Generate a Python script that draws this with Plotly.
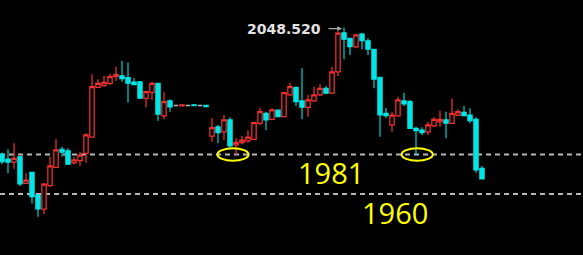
import plotly.graph_objects as go

# ---- data (price values) ----
opens = [1981.1, 1978.6, 1976.9, 1979.8, 1965.7, 1971.5, 1959.5, 1952.0, 1964.4, 1974.2,
         1983.8, 1983.0, 1976.6, 1977.7, 1981.6, 1990.2, 2016.7, 2017.6, 2018.9, 2022.4,
         2022.9, 2021.9, 2019.6, 2019.7, 2010.9, 2014.1, 2018.9, 2001.5, 2009.5, 2007.1,
         2006.9, 2007.1, 2007.4, 2007.1, 2007.2, 1990.8, 1995.8, 1993.1, 1999.4, 1986.1,
         1987.3, 1988.3, 1989.1, 1997.6, 2002.9, 1999.7, 2004.7, 2001.1, 2012.7, 2016.7,
         2009.5, 2006.1, 2009.5, 2012.7, 2016.2, 2013.6, 2025.0, 2045.8, 2042.8, 2038.3,
         2045.1, 2041.5, 2037.0, 2022.1, 2002.9, 1996.7, 2001.5, 2009.6, 2009.1, 1994.9,
         1994.0, 1993.1, 1996.2, 1998.4, 1999.4, 1997.6, 2002.0, 2003.4, 2002.0, 1999.7,
         1973.7]
highs = [1982.0, 1983.8, 1987.0, 1980.2, 1971.0, 1971.5, 1959.5, 1966.0, 1979.8, 1989.1,
         1985.1, 1984.3, 1979.8, 1982.5, 1992.3, 2023.7, 2021.0, 2022.8, 2023.8, 2027.7,
         2030.7, 2030.0, 2021.5, 2020.1, 2014.9, 2019.6, 2019.2, 2014.1, 2010.4, 2007.1,
         2007.4, 2007.1, 2007.4, 2007.1, 2007.2, 2000.3, 1996.7, 2002.0, 2000.8, 1989.6,
         1990.8, 1993.7, 1998.4, 2005.9, 2003.8, 2005.6, 2005.0, 2014.4, 2019.2, 2017.1,
         2026.9, 2012.7, 2017.1, 2018.5, 2017.4, 2027.7, 2046.5, 2048.52, 2042.8, 2045.1,
         2045.8, 2042.8, 2037.0, 2022.1, 2005.7, 2003.8, 2011.7, 2013.9, 2010.0, 1995.8,
         1995.5, 1998.4, 2000.8, 2004.3, 2003.8, 2010.9, 2005.0, 2006.8, 2005.6, 2000.8,
         1974.9]
lows = [1975.9, 1971.0, 1973.3, 1964.2, 1965.3, 1955.0, 1947.9, 1949.3, 1963.9, 1974.2,
        1979.8, 1975.6, 1975.8, 1975.0, 1976.6, 1990.0, 2016.4, 2017.1, 2018.0, 2020.1,
        2019.7, 2008.6, 2018.0, 2010.7, 2006.1, 2010.0, 1999.0, 1999.7, 2003.8, 2007.1,
        2006.9, 2007.1, 2006.9, 2007.1, 2006.4, 1987.8, 1987.0, 1988.7, 1984.5, 1980.8,
        1986.4, 1987.3, 1988.7, 1996.7, 1994.0, 1999.4, 2000.8, 2000.8, 2012.1, 2006.8,
        1999.7, 2001.1, 2009.1, 2012.1, 2013.2, 2013.2, 2022.8, 2031.6, 2033.9, 2037.5,
        2037.0, 2033.9, 2016.2, 1990.5, 2000.4, 1993.1, 2001.1, 2006.8, 1994.4, 1980.8,
        1991.4, 1991.4, 1995.5, 1995.8, 1989.6, 1997.2, 2001.5, 2001.5, 1997.6, 1971.3,
        1968.0]
closes = [1977.2, 1976.9, 1979.0, 1965.3, 1967.4, 1958.5, 1952.0, 1965.3, 1974.9, 1983.4,
          1982.2, 1975.8, 1978.1, 1980.7, 1991.4, 2017.1, 2018.9, 2019.4, 2022.4, 2023.5,
          2021.3, 2018.9, 2018.1, 2010.9, 2014.4, 2018.9, 2002.4, 2009.1, 2006.3, 2007.1,
          2007.4, 2007.1, 2006.9, 2007.1, 2006.4, 1995.3, 1992.6, 1999.4, 1985.6, 1987.5,
          1988.7, 1990.2, 1997.9, 2003.8, 1999.4, 2004.7, 2001.1, 2013.9, 2017.1, 2009.1,
          2006.1, 2010.0, 2012.7, 2016.2, 2013.6, 2025.0, 2045.5, 2042.3, 2038.3, 2044.6,
          2041.5, 2037.0, 2021.0, 2002.0, 2001.6, 2002.0, 2010.0, 2007.9, 1994.9, 1993.7,
          1992.6, 1996.7, 1999.7, 1999.7, 1997.6, 2002.9, 2003.8, 2001.6, 1999.0, 1972.8,
          1968.0]

support_levels = [1981, 1960]
support_labels = ["1981", "1960"]
peak_label = "2048.520"
touch_centers = [38.5, 69.2]   # bar positions of the two circled lows

# ---- styling ----
RED = "#f23030"
CYAN = "#00e6e6"
GRAY = "#b8b8b8"
YELLOW = "#ffff00"

idx = list(range(len(opens)))


def subset(cond):
    sel = [i for i in idx if cond(i)]
    return (sel, [opens[i] for i in sel], [highs[i] for i in sel],
            [lows[i] for i in sel], [closes[i] for i in sel])


fig = go.Figure()
for cond, line_c, fill_c, lw in [
    (lambda i: closes[i] > opens[i], RED, "#000000", 1.25),
    (lambda i: closes[i] < opens[i], CYAN, CYAN, 1.1),
    (lambda i: closes[i] == opens[i], GRAY, GRAY, 1.6),
]:
    x, o, h, l, c = subset(cond)
    st = dict(line=dict(color=line_c, width=lw), fillcolor=fill_c)
    fig.add_trace(go.Candlestick(x=x, open=o, high=h, low=l, close=c,
                                 increasing=st, decreasing=st,
                                 whiskerwidth=0, hoverinfo="skip", showlegend=False))

# dashed support lines
for lvl in support_levels:
    fig.add_shape(type="line", xref="paper", x0=0, x1=1, yref="y", y0=lvl, y1=lvl,
                  line=dict(color=GRAY, width=2, dash="5px,4px"), layer="below")

# ellipses around the lows touching 1981
for cx in touch_centers:
    fig.add_shape(type="circle", xref="x", yref="y",
                  x0=cx - 2.6, x1=cx + 2.6,
                  y0=support_levels[0] - 3.3, y1=support_levels[0] + 3.3,
                  line=dict(color=YELLOW, width=2), layer="above")

# level labels
fig.add_annotation(x=54.8, y=1971.4, text=support_labels[0], showarrow=False,
                   font=dict(family="Open Sans", size=29, color=YELLOW),
                   xanchor="center", yanchor="middle")
fig.add_annotation(x=65.5, y=1950.2, text=support_labels[1], showarrow=False,
                   font=dict(family="Open Sans", size=29, color=YELLOW),
                   xanchor="center", yanchor="middle")

# peak label with arrow
peak_i = max(idx, key=lambda i: highs[i])
fig.add_annotation(x=peak_i, y=highs[peak_i], text="", showarrow=True,
                   ax=-17, ay=0, arrowhead=2, arrowsize=0.8, arrowwidth=1.2,
                   arrowcolor="#aaaaaa", standoff=2, yshift=-1)
fig.add_annotation(x=peak_i, y=highs[peak_i], text=peak_label, showarrow=False,
                   xanchor="right", yanchor="middle", xshift=-21, yshift=-1,
                   font=dict(family="DejaVu Sans", size=14, color="#e2e2e2",
                             weight="bold"))

n_vis = 583 / 6.0
y_lo = 1981 - (255 - 154.5) / 1.88
y_hi = 1981 + 154.5 / 1.88

fig.update_layout(
    width=583, height=255,
    margin=dict(l=0, r=0, t=0, b=0),
    paper_bgcolor="#000000", plot_bgcolor="#000000",
    boxgap=0.15, boxgroupgap=0.15,
    xaxis=dict(range=[-1 / 3, -1 / 3 + n_vis], visible=False,
               rangeslider=dict(visible=False), showgrid=False, zeroline=False),
    yaxis=dict(range=[y_lo, y_hi], visible=False, showgrid=False, zeroline=False),
    hovermode=False,
)

fig.write_html("out.html")
